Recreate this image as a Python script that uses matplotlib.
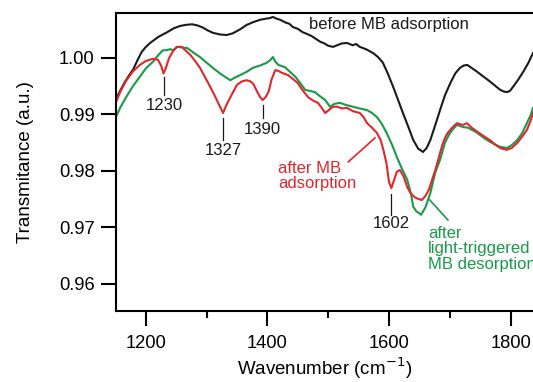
import matplotlib
matplotlib.use("Agg")
import matplotlib.pyplot as plt
from matplotlib.ticker import MultipleLocator

plt.rcParams['font.family'] = ['Liberation Sans', 'DejaVu Sans']

# spectra: wavenumber (cm-1) and transmitance (a.u.)
before_wn = [1150, 1158, 1165, 1172, 1179, 1186, 1193, 1200, 1207, 1221, 1235, 1246,
             1256, 1266, 1276, 1285, 1294, 1302, 1310, 1322, 1333, 1343, 1355, 1366,
             1377, 1388, 1398, 1404, 1409, 1415, 1421, 1430, 1436, 1442, 1450, 1458,
             1465, 1473, 1480, 1487, 1494, 1500, 1508, 1515, 1522, 1531, 1540, 1546,
             1552, 1562, 1574, 1582, 1590, 1598, 1607, 1615, 1623, 1632, 1640, 1648,
             1656, 1662, 1668, 1676, 1684, 1692, 1701, 1709, 1717, 1723, 1729, 1737,
             1745, 1756, 1767, 1775, 1783, 1789, 1794, 1799, 1804, 1812, 1821, 1829, 1837]
before_t = [0.9925, 0.9942, 0.9956, 0.9968, 0.9979, 0.9995, 1.0010, 1.0019, 1.0026, 1.0037,
            1.0045, 1.0052, 1.0056, 1.0058, 1.0059, 1.0057, 1.0053, 1.0048, 1.0044, 1.0041,
            1.0040, 1.0043, 1.0050, 1.0058, 1.0063, 1.0067, 1.0069, 1.0070, 1.0072, 1.0069,
            1.0067, 1.0062, 1.0060, 1.0054, 1.0051, 1.0045, 1.0042, 1.0038, 1.0033, 1.0028,
            1.0025, 1.0021, 1.0019, 1.0022, 1.0025, 1.0026, 1.0022, 1.0024, 1.0019, 1.0015,
            1.0008, 1.0001, 0.9991, 0.9972, 0.9948, 0.9925, 0.9902, 0.9877, 0.9854, 0.9839,
            0.9833, 0.9840, 0.9854, 0.9880, 0.9907, 0.9933, 0.9955, 0.9972, 0.9982, 0.9986,
            0.9987, 0.9981, 0.9975, 0.9966, 0.9957, 0.9950, 0.9943, 0.9940, 0.9939, 0.9941,
            0.9948, 0.9960, 0.9975, 0.9990, 1.0008]

ads_wn = [1150, 1158, 1168, 1179, 1190, 1200, 1212, 1220, 1225, 1229, 1233, 1238, 1245,
          1251, 1259, 1266, 1273, 1281, 1289, 1297, 1306, 1314, 1322, 1327, 1332, 1339,
          1345, 1350, 1358, 1366, 1372, 1377, 1383, 1388, 1392, 1397, 1402, 1407, 1413,
          1419, 1424, 1434, 1442, 1450, 1458, 1467, 1475, 1483, 1490, 1495, 1502, 1508,
          1515, 1523, 1531, 1541, 1552, 1558, 1564, 1572, 1580, 1586, 1591, 1596, 1600,
          1604, 1608, 1613, 1618, 1624, 1630, 1635, 1642, 1648, 1654, 1660, 1666, 1671,
          1676, 1681, 1685, 1689, 1693, 1697, 1704, 1712, 1717, 1722, 1728, 1736, 1745,
          1756, 1766, 1775, 1783, 1789, 1794, 1802, 1811, 1819, 1827, 1833, 1837]
ads_t = [0.9919, 0.9940, 0.9960, 0.9976, 0.9987, 0.9994, 0.9998, 0.9996, 0.9986, 0.9972,
         0.9982, 0.9999, 1.0012, 1.0019, 1.0019, 1.0012, 1.0005, 0.9994, 0.9982, 0.9966,
         0.9948, 0.9931, 0.9913, 0.9902, 0.9915, 0.9930, 0.9942, 0.9952, 0.9958, 0.9960,
         0.9958, 0.9953, 0.9940, 0.9930, 0.9925, 0.9930, 0.9940, 0.9962, 0.9978, 0.9976,
         0.9973, 0.9969, 0.9962, 0.9955, 0.9942, 0.9930, 0.9924, 0.9920, 0.9910, 0.9902,
         0.9908, 0.9913, 0.9913, 0.9910, 0.9911, 0.9905, 0.9902, 0.9895, 0.9884, 0.9876,
         0.9867, 0.9855, 0.9836, 0.9812, 0.9780, 0.9769, 0.9782, 0.9798, 0.9801, 0.9790,
         0.9771, 0.9761, 0.9753, 0.9750, 0.9748, 0.9755, 0.9767, 0.9784, 0.9800, 0.9819,
         0.9835, 0.9849, 0.9860, 0.9867, 0.9876, 0.9884, 0.9882, 0.9881, 0.9884, 0.9876,
         0.9869, 0.9861, 0.9854, 0.9846, 0.9840, 0.9838, 0.9837, 0.9840, 0.9849, 0.9860,
         0.9872, 0.9888, 0.9902]

des_wn = [1150, 1158, 1168, 1179, 1190, 1200, 1212, 1220, 1228, 1234, 1240, 1245, 1251,
          1259, 1268, 1278, 1289, 1300, 1310, 1322, 1333, 1339, 1347, 1355, 1366, 1376,
          1388, 1399, 1405, 1409, 1413, 1418, 1429, 1437, 1446, 1454, 1462, 1470, 1478,
          1486, 1495, 1503, 1510, 1519, 1530, 1541, 1552, 1564, 1572, 1580, 1588, 1596,
          1605, 1613, 1621, 1630, 1636, 1640, 1645, 1653, 1660, 1668, 1676, 1684, 1692,
          1698, 1704, 1712, 1717, 1722, 1730, 1745, 1756, 1766, 1775, 1783, 1794, 1802,
          1811, 1819, 1827, 1833, 1837]
des_t = [0.9893, 0.9912, 0.9931, 0.9950, 0.9966, 0.9981, 0.9993, 1.0004, 1.0013, 1.0013,
         1.0015, 1.0013, 1.0019, 1.0018, 1.0017, 1.0009, 1.0001, 0.9991, 0.9982, 0.9972,
         0.9964, 0.9960, 0.9965, 0.9969, 0.9975, 0.9982, 0.9986, 0.9991, 0.9996, 1.0001,
         0.9993, 0.9987, 0.9983, 0.9975, 0.9966, 0.9955, 0.9943, 0.9941, 0.9939, 0.9932,
         0.9925, 0.9913, 0.9918, 0.9920, 0.9916, 0.9913, 0.9910, 0.9907, 0.9902, 0.9895,
         0.9883, 0.9867, 0.9846, 0.9824, 0.9804, 0.9784, 0.9760, 0.9736, 0.9728, 0.9722,
         0.9735, 0.9760, 0.9796, 0.9819, 0.9849, 0.9862, 0.9872, 0.9881, 0.9879, 0.9877,
         0.9876, 0.9867, 0.9858, 0.9851, 0.9846, 0.9842, 0.9840, 0.9845, 0.9854, 0.9866,
         0.9884, 0.9898, 0.9911]

# peak labels: (label, x, line top, line bottom, text y)
peaks = [("1230", 1230, 0.99664, 0.99340, 0.99145),
         ("1327", 1327, 0.98933, 0.98543, 0.98354),
         ("1390", 1392, 0.99163, 0.98927, 0.98720),
         ("1602", 1604, 0.97588, 0.97216, 0.97057)]

black = '#1a1a1a'
red = '#e3262b'
green = '#189a48'

fig = plt.figure(figsize=(5.33, 3.82), dpi=100)
ax = fig.add_axes([0.2167, 0.1866, 0.7833, 0.7794])

ax.plot(before_wn, before_t, color=black, lw=1.5)
ax.plot(des_wn, des_t, color=green, lw=1.5)
ax.plot(ads_wn, ads_t, color=red, lw=1.5)

for label, x, y0, y1, yt in peaks:
    ax.plot([x, x], [y0, y1], color=black, lw=0.9)
    ax.text(x, yt, label, ha='center', va='center', fontsize=12, color=black)

ax.text(1600, 1.00579, "before MB adsorption", ha='center', va='center',
        fontsize=12, color=black)

ax.text(1417, 0.97906, "after MB\nadsorption", ha='left', va='center',
        fontsize=12, color=red, linespacing=1.0)
ax.plot([1533, 1577], [0.98154, 0.98579], color=red, lw=1.2)

ax.text(1664, 0.96614, "after\nlight-triggered\nMB desorption", ha='left', va='center',
        fontsize=12, color=green, linespacing=1.05, clip_on=False)
ax.plot([1667, 1697], [0.97481, 0.97127], color=green, lw=1.2)

ax.set_xlim(1150, 1837)
ax.set_ylim(0.9552, 1.0079)
ax.xaxis.set_major_locator(MultipleLocator(200))
ax.xaxis.set_minor_locator(MultipleLocator(100))
ax.set_yticks([0.96, 0.97, 0.98, 0.99, 1.00])
ax.set_yticklabels(['0.96', '0.97', '0.98', '0.99', '1.00'])

ax.spines['right'].set_visible(False)
for s in ['left', 'bottom', 'top']:
    ax.spines[s].set_linewidth(1.5)
ax.tick_params(axis='both', which='major', direction='out', length=10.5, width=1.5,
               labelsize=13.2)
ax.tick_params(axis='x', which='major', pad=6.7)
ax.tick_params(axis='y', which='major', pad=4.5)
ax.tick_params(axis='x', which='minor', direction='out', length=5, width=1.5)
ax.tick_params(top=False, right=False)

ax.set_xlabel("Wavenumber (cm$^{-1}$)", fontsize=13.5, labelpad=3)
ax.set_ylabel("Transmitance (a.u.)", fontsize=13.5, labelpad=18)

fig.savefig("out.png", dpi=100)
